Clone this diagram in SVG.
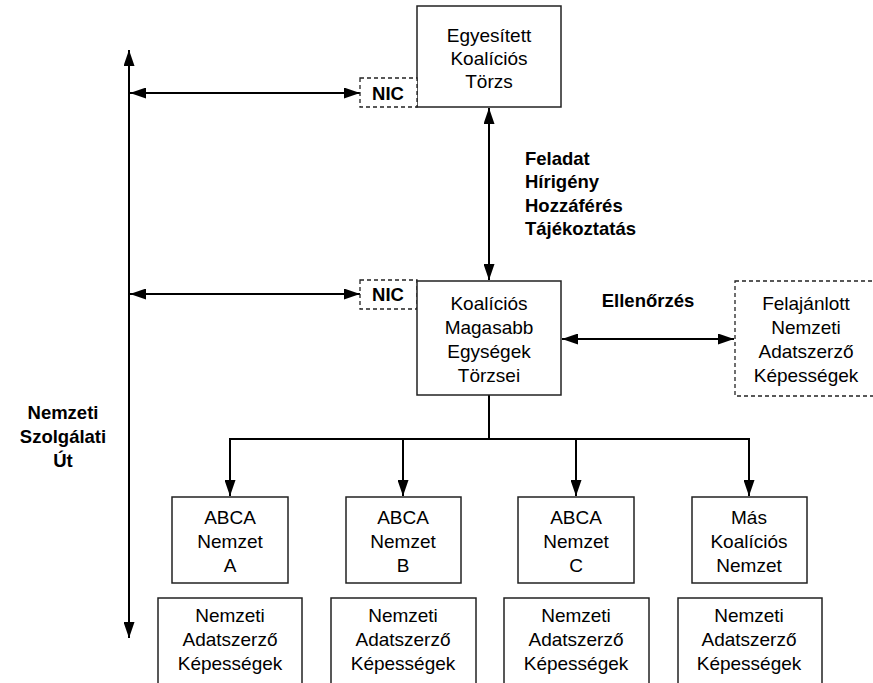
<svg xmlns="http://www.w3.org/2000/svg" width="873" height="683" viewBox="0 0 873 683">
<defs>
<marker id="ah" viewBox="0 0 16 11" refX="16" refY="5.5" markerWidth="16" markerHeight="11" markerUnits="userSpaceOnUse" orient="auto-start-reverse">
<path d="M0,0 L16,5.5 L0,11 Z" fill="#000"/>
</marker>
<style>
.box{fill:#fff;stroke:#222;stroke-width:1.5}
.dash{fill:#fff;stroke:#222;stroke-width:1.3;stroke-dasharray:4,3}
.t{font-family:"Liberation Sans",Arial,sans-serif;font-size:19px;fill:#000;text-anchor:middle}
.b{font-family:"Liberation Sans",Arial,sans-serif;font-size:18.5px;font-weight:bold;fill:#000}
.ln{stroke:#000;stroke-width:2;fill:none}
</style>
</defs>
<rect width="873" height="683" fill="#fff"/>
<g id="connectors">
<line class="ln" x1="129" y1="50" x2="129" y2="638" marker-start="url(#ah)" marker-end="url(#ah)"/>
<line class="ln" x1="130" y1="93" x2="360" y2="93" marker-start="url(#ah)" marker-end="url(#ah)"/>
<line class="ln" x1="130" y1="294" x2="360" y2="294" marker-start="url(#ah)" marker-end="url(#ah)"/>
<line class="ln" x1="489" y1="108" x2="489" y2="280" marker-start="url(#ah)" marker-end="url(#ah)"/>
<line class="ln" x1="562" y1="339" x2="734" y2="339" marker-start="url(#ah)" marker-end="url(#ah)"/>
<line class="ln" x1="489" y1="395" x2="489" y2="439"/>
<line class="ln" x1="230" y1="439" x2="749" y2="439"/>
<line class="ln" x1="230" y1="438" x2="230" y2="496" marker-end="url(#ah)"/>
<line class="ln" x1="403" y1="438" x2="403" y2="496" marker-end="url(#ah)"/>
<line class="ln" x1="576" y1="438" x2="576" y2="496" marker-end="url(#ah)"/>
<line class="ln" x1="749" y1="438" x2="749" y2="496" marker-end="url(#ah)"/>
</g>
<g id="ecc">
<rect class="box" x="417" y="6" width="144" height="101"/>
<text class="t" x="489" y="42">Egyesített</text>
<text class="t" x="489" y="65">Koalíciós</text>
<text class="t" x="489" y="88">Törzs</text>
</g>
<g id="nic1">
<rect class="dash" x="360" y="78" width="57" height="29"/>
<text class="b" x="388" y="100" text-anchor="middle">NIC</text>
</g>
<g id="nic2">
<rect class="dash" x="360" y="280" width="57" height="29"/>
<text class="b" x="388" y="301" text-anchor="middle">NIC</text>
</g>
<g id="hq">
<rect class="box" x="417" y="281" width="144" height="114"/>
<text class="t" x="489" y="310">Koalíciós</text>
<text class="t" x="489" y="334">Magasabb</text>
<text class="t" x="489" y="358">Egységek</text>
<text class="t" x="489" y="382">Törzsei</text>
</g>
<g id="offered">
<rect class="dash" x="735" y="281" width="145" height="115"/>
<text class="t" x="806" y="310">Felajánlott</text>
<text class="t" x="806" y="334">Nemzeti</text>
<text class="t" x="806" y="358">Adatszerző</text>
<text class="t" x="806" y="382">Képességek</text>
</g>
<g id="labels">
<text class="b" x="525" y="165">Feladat</text>
<text class="b" x="525" y="188">Hírigény</text>
<text class="b" x="525" y="212">Hozzáférés</text>
<text class="b" x="525" y="235">Tájékoztatás</text>
<text class="b" x="648" y="307" text-anchor="middle">Ellenőrzés</text>
<text class="b" x="63" y="419" text-anchor="middle">Nemzeti</text>
<text class="b" x="63" y="443" text-anchor="middle">Szolgálati</text>
<text class="b" x="63" y="467" text-anchor="middle">Út</text>
</g>
<g id="natA">
<rect class="box" x="172" y="497" width="116" height="86"/>
<text class="t" x="230" y="524">ABCA</text>
<text class="t" x="230" y="548">Nemzet</text>
<text class="t" x="230" y="572">A</text>
</g>
<g id="natB">
<rect class="box" x="346" y="497" width="115" height="86"/>
<text class="t" x="403" y="524">ABCA</text>
<text class="t" x="403" y="548">Nemzet</text>
<text class="t" x="403" y="572">B</text>
</g>
<g id="natC">
<rect class="box" x="518" y="497" width="116" height="86"/>
<text class="t" x="576" y="524">ABCA</text>
<text class="t" x="576" y="548">Nemzet</text>
<text class="t" x="576" y="572">C</text>
</g>
<g id="natD">
<rect class="box" x="692" y="497" width="115" height="86"/>
<text class="t" x="749" y="524">Más</text>
<text class="t" x="749" y="548">Koalíciós</text>
<text class="t" x="749" y="572">Nemzet</text>
</g>
<g id="capA">
<rect class="box" x="158" y="598" width="144" height="100"/>
<text class="t" x="230" y="622">Nemzeti</text>
<text class="t" x="230" y="646">Adatszerző</text>
<text class="t" x="230" y="670">Képességek</text>
</g>
<g id="capB">
<rect class="box" x="331" y="598" width="145" height="100"/>
<text class="t" x="403" y="622">Nemzeti</text>
<text class="t" x="403" y="646">Adatszerző</text>
<text class="t" x="403" y="670">Képességek</text>
</g>
<g id="capC">
<rect class="box" x="504" y="598" width="145" height="100"/>
<text class="t" x="576" y="622">Nemzeti</text>
<text class="t" x="576" y="646">Adatszerző</text>
<text class="t" x="576" y="670">Képességek</text>
</g>
<g id="capD">
<rect class="box" x="678" y="598" width="144" height="100"/>
<text class="t" x="749" y="622">Nemzeti</text>
<text class="t" x="749" y="646">Adatszerző</text>
<text class="t" x="749" y="670">Képességek</text>
</g>
</svg>
